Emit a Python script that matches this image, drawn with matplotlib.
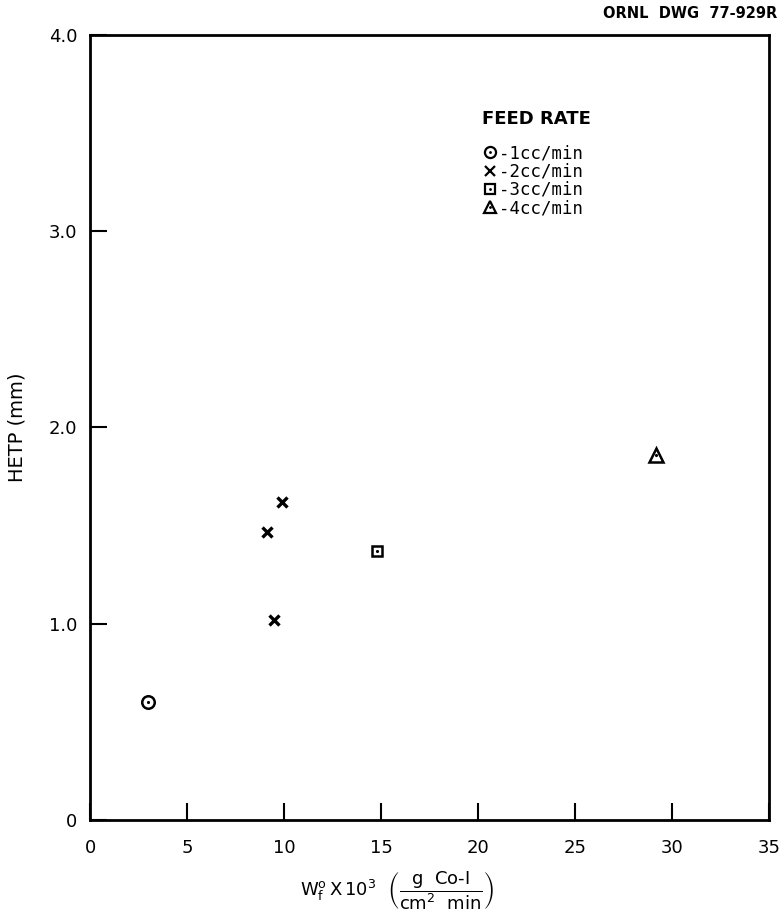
import matplotlib
matplotlib.use('Agg')
import matplotlib.pyplot as plt
from matplotlib.lines import Line2D

# ---- data ----
feed_labels = ['-1cc/min', '-2cc/min', '-3cc/min', '-4cc/min']
x_1cc = [3.0]
y_1cc = [0.60]
x_2cc = [9.9, 9.1, 9.5]
y_2cc = [1.62, 1.47, 1.02]
x_3cc = [14.8]
y_3cc = [1.37]
x_4cc = [29.2]
y_4cc = [1.86]

x_ticks = [0, 5, 10, 15, 20, 25, 30, 35]
x_tick_labels = ['0', '5', '10', '15', '20', '25', '30', '35']
y_ticks = [0, 1, 2, 3, 4]
y_tick_labels = ['0', '1.0', '2.0', '3.0', '4.0']

plt.rcParams['font.family'] = ['DejaVu Sans']
plt.rcParams['mathtext.fontset'] = 'dejavusans'

fig = plt.figure(figsize=(7.81, 9.22), dpi=100)
ax = fig.add_axes([90 / 781, 1 - 820 / 922, (769 - 90) / 781, (820 - 35) / 922])

ms = 9
mew = 1.8
# open marker + centre dot
ax.plot(x_1cc, y_1cc, 'o', ms=ms, mfc='none', mec='black', mew=mew, ls='none')
ax.plot(x_1cc, y_1cc, '.', ms=2.5, color='black', ls='none')
ax.plot(x_2cc, y_2cc, 'x', ms=7, mec='black', mew=2.4, ls='none')
ax.plot(x_3cc, y_3cc, 's', ms=7.5, mfc='none', mec='black', mew=mew, ls='none')
ax.plot(x_3cc, y_3cc, '.', ms=2.5, color='black', ls='none')
ax.plot(x_4cc, y_4cc, '^', ms=10, mfc='none', mec='black', mew=mew, ls='none')
ax.plot(x_4cc, y_4cc, '.', ms=2.5, color='black', ls='none')

ax.set_xlim(0, 35)
ax.set_ylim(0, 4)
ax.set_xticks(x_ticks)
ax.set_xticklabels(x_tick_labels)
ax.set_yticks(y_ticks)
ax.set_yticklabels(y_tick_labels)
ax.tick_params(axis='both', direction='in', length=12, width=1.5,
               labelsize=13, top=False, right=False)
ax.tick_params(axis='x', pad=14)
ax.tick_params(axis='y', pad=9)
for s in ax.spines.values():
    s.set_linewidth(2.0)

ax.set_ylabel('HETP (mm)', fontsize=14)
ax.yaxis.set_label_coords(-(90 - 27) / 679, 0.5)
ax.set_xlabel(r'$\mathrm{W_f^o\,X\,10^3}\ \ \left(\dfrac{\mathrm{g\ \ Co\text{-}I}}{\mathrm{cm^2\ \ min}}\right)$',
              fontsize=13)
ax.xaxis.set_label_coords((397 - 90) / 679, -(891 - 820) / 785, transform=ax.transAxes)
ax.xaxis.label.set_va('center')

# legend
def mk(marker, size, dot=True, lw=1.6):
    h = Line2D([], [], marker=marker, ms=size, mfc='none', mec='black', mew=lw, ls='none')
    if dot:
        d = Line2D([], [], marker='.', ms=2, color='black', ls='none')
        return (h, d)
    return h

handles = [mk('o', 8), mk('x', 7, dot=False, lw=1.6), mk('s', 7), mk('^', 8)]
leg = ax.legend(handles, feed_labels, title='FEED RATE', loc='upper left',
                bbox_to_anchor=(0.577, 0.905), frameon=False,
                prop={'family': 'DejaVu Sans Mono', 'size': 12.5},
                handlelength=0.9, handletextpad=0.1, labelspacing=0.02,
                borderpad=0, borderaxespad=0)
leg.get_title().set_fontsize(13)
leg.get_title().set_fontweight('bold')
leg.get_title().set_family('DejaVu Sans')
leg._legend_box.align = 'left'
leg._legend_box.sep = 12

fig.text(777 / 781, 1 - 13 / 922, 'ORNL  DWG  77-929R', ha='right', va='center',
         fontsize=10.5, fontweight='bold')

fig.savefig('out.png', dpi=100, facecolor='white')
